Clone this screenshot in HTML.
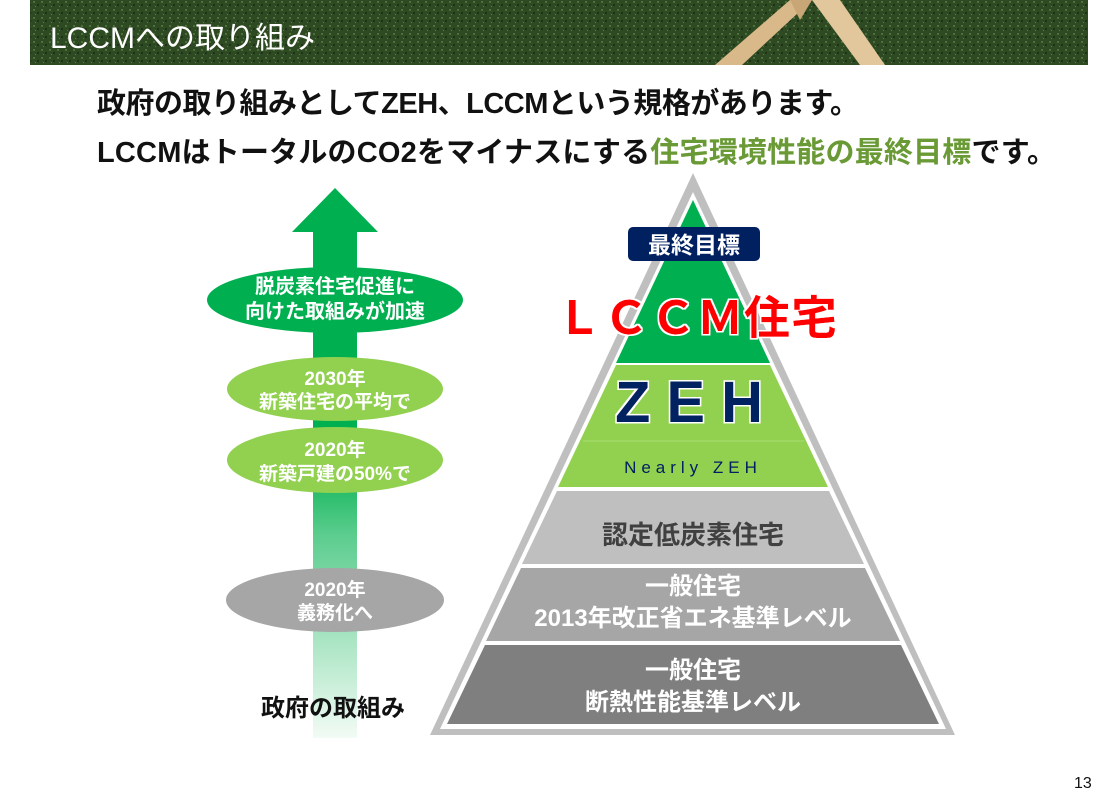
<!DOCTYPE html>
<html><head><meta charset="utf-8"><style>
body{margin:0;width:1118px;height:791px;background:#fff;overflow:hidden;font-family:"Liberation Sans","Noto Sans CJK JP",sans-serif;}
svg text{font-family:"Liberation Sans","Noto Sans CJK JP",sans-serif;}
</style></head><body>
<svg width="1118" height="791" viewBox="0 0 1118 791" xmlns="http://www.w3.org/2000/svg">
<defs>
<pattern id="grass" width="8" height="8" patternUnits="userSpaceOnUse">
<rect width="8" height="8" fill="#2e4a22"/>
<rect x="1" y="1" width="2" height="2" fill="#4e6e3a"/>
<rect x="5" y="4" width="2" height="2" fill="#1f3318"/>
<rect x="3" y="6" width="1" height="1" fill="#5b7b44"/>
</pattern>
<linearGradient id="shaft" x1="0" y1="0" x2="0" y2="1">
<stop offset="0" stop-color="#00b050"/>
<stop offset="0.45" stop-color="#00b050"/>
<stop offset="0.6" stop-color="#5ccd8e"/>
<stop offset="1" stop-color="#f2fbf5"/>
</linearGradient>
<filter id="glow"><feMorphology operator="dilate" radius="1.5" in="SourceAlpha" result="d"/><feFlood flood-color="#fff"/><feComposite in2="d" operator="in" result="w"/><feMerge><feMergeNode in="w"/><feMergeNode in="SourceGraphic"/></feMerge></filter>
</defs>
<rect x="30" y="0" width="1058" height="65" fill="url(#grass)"/>
<polygon points="715,65 790,0 812,0 742,65" fill="#d9b98a"/>
<polygon points="812,0 840,0 885,65 860,65" fill="#e3c79c"/>
<polygon points="790,0 812,0 800,20" fill="#c9a676"/>
<text x="50" y="48" font-size="30" fill="#fff">LCCMへの取り組み</text>
<text x="97" y="113" font-size="29" font-weight="bold" fill="#111" letter-spacing="-0.5">政府の取り組みとしてZEH、LCCMという規格があります。</text>
<text x="97" y="162" font-size="29" font-weight="bold" fill="#111" letter-spacing="0.2">LCCMはトータルのCO2をマイナスにする<tspan fill="#6a9a35">住宅環境性能の最終目標</tspan>です。</text>
<rect x="313" y="230" width="44" height="508" fill="url(#shaft)"/>
<polygon points="335,188 292,232 378,232" fill="#00b050"/>
<ellipse cx="335" cy="300" rx="128" ry="33" fill="#00b050"/>
<text x="335" y="293" font-size="20" font-weight="bold" fill="#fff" text-anchor="middle">脱炭素住宅促進に</text>
<text x="335" y="318" font-size="20" font-weight="bold" fill="#fff" text-anchor="middle">向けた取組みが加速</text>
<ellipse cx="335" cy="389" rx="108" ry="32" fill="#92d050"/>
<text x="335" y="385" font-size="19" font-weight="bold" fill="#fff" text-anchor="middle">2030年</text>
<text x="335" y="408" font-size="19" font-weight="bold" fill="#fff" text-anchor="middle">新築住宅の平均で</text>
<ellipse cx="335" cy="460" rx="108" ry="33" fill="#92d050"/>
<text x="335" y="456" font-size="19" font-weight="bold" fill="#fff" text-anchor="middle">2020年</text>
<text x="335" y="480" font-size="19" font-weight="bold" fill="#fff" text-anchor="middle">新築戸建の50%で</text>
<ellipse cx="335" cy="600" rx="109" ry="32" fill="#a6a6a6"/>
<text x="335" y="596" font-size="19" font-weight="bold" fill="#fff" text-anchor="middle">2020年</text>
<text x="335" y="619" font-size="19" font-weight="bold" fill="#fff" text-anchor="middle">義務化へ</text>
<text x="333" y="716" font-size="24" font-weight="bold" fill="#111" text-anchor="middle">政府の取組み</text>
<polygon points="693,173 955,735 430,735" fill="#bfbfbf"/>
<polygon points="693,192 946,729 440,729" fill="#fff"/>
<polygon points="693,200 770,363 616,363" fill="#00b050"/>
<polygon points="616,365 770,365 828,487 558,487" fill="#92d050"/>
<line x1="583" y1="441" x2="804" y2="441" stroke="#a8dc70" stroke-width="1"/>
<polygon points="557,491 829,491 864,564 522,564" fill="#bfbfbf"/>
<polygon points="521,568 865,568 900,641 486,641" fill="#a6a6a6"/>
<polygon points="485,645 901,645 939,724 447,724" fill="#7f7f7f"/>
<rect x="628" y="227" width="132" height="34" rx="5" fill="#002060"/>
<text x="694" y="253" font-size="23" font-weight="bold" fill="#fff" text-anchor="middle">最終目標</text>
<text x="697" y="334" font-size="46" font-weight="bold" fill="#ff0000" text-anchor="middle" letter-spacing="1" filter="url(#glow)">ＬＣＣＭ住宅</text>
<text x="697" y="422" font-size="58" font-weight="bold" fill="#002060" text-anchor="middle" letter-spacing="16" filter="url(#glow)">ZEH</text>
<text x="693" y="473" font-size="17" fill="#002060" text-anchor="middle" letter-spacing="5">Nearly ZEH</text>
<text x="693" y="544" font-size="26" font-weight="bold" fill="#404040" text-anchor="middle">認定低炭素住宅</text>
<text x="693" y="594" font-size="24" font-weight="bold" fill="#fff" text-anchor="middle">一般住宅</text>
<text x="693" y="626" font-size="24" font-weight="bold" fill="#fff" text-anchor="middle">2013年改正省エネ基準レベル</text>
<text x="693" y="678" font-size="24" font-weight="bold" fill="#fff" text-anchor="middle">一般住宅</text>
<text x="693" y="710" font-size="24" font-weight="bold" fill="#fff" text-anchor="middle">断熱性能基準レベル</text>
<text x="1074" y="788" font-size="16" fill="#111">13</text>
</svg>
</body></html>
